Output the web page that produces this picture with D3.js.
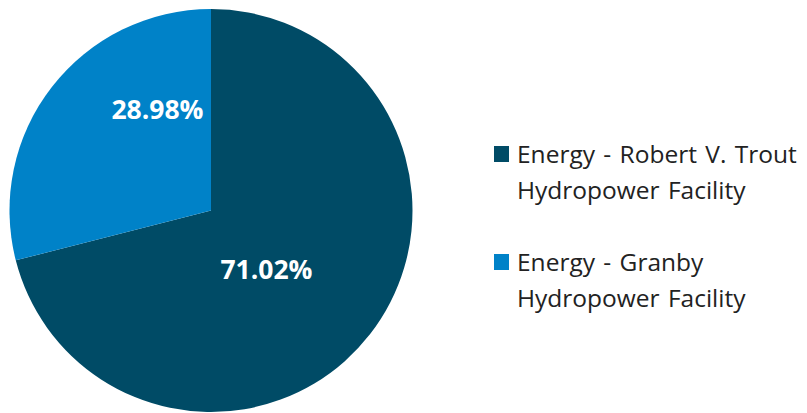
<!DOCTYPE html>
<html>
<head>
<meta charset="utf-8">
<script src="https://cdn.jsdelivr.net/npm/d3@7"></script>
<style>
  html, body { margin: 0; padding: 0; background: #fff; }
  svg { display: block; }
  text { font-family: "Open Sans", "Noto Sans", sans-serif; }
</style>
</head>
<body>
<svg id="chart" width="807" height="413"></svg>
<script>
// Share of energy by facility
const categories = [
  "Energy - Robert V. Trout Hydropower Facility",
  "Energy - Granby Hydropower Facility"
];
const legendLines = [
  ["Energy - Robert V. Trout", "Hydropower Facility"],
  ["Energy - Granby", "Hydropower Facility"]
];
const values = [71.02, 28.98];
const colors = ["#004b66", "#0082c8"];

const svg = d3.select("#chart");
const cx = 211, cy = 210.5, r = 201.5;

const pie = d3.pie().sort(null).value(d => d)(values);
const arc = d3.arc().innerRadius(0).outerRadius(r);

const g = svg.append("g").attr("transform", `translate(${cx},${cy})`);

g.selectAll("path.slice")
  .data(pie)
  .join("path")
  .attr("class", "slice")
  .attr("d", arc)
  .attr("fill", (d, i) => colors[i]);

// Data labels: placed inside each slice, nudged toward the open area
const labelOffsets = [[0.275, 0.29], [-0.266, -0.505]];
g.selectAll("text.lbl")
  .data(pie)
  .join("text")
  .attr("class", "lbl")
  .attr("x", (d, i) => labelOffsets[i][0] * r)
  .attr("y", (d, i) => labelOffsets[i][1] * r)
  .attr("text-anchor", "middle")
  .attr("dominant-baseline", "central")
  .attr("fill", "#fff")
  .attr("font-weight", 700)
  .attr("font-size", 26.5)
  .text(d => d.data.toFixed(2) + "%");

// Legend
const legend = svg.append("g").attr("transform", "translate(494,0)");
const rowTop = [146, 254];
const item = legend.selectAll("g.item")
  .data(categories)
  .join("g")
  .attr("class", "item")
  .attr("transform", (d, i) => `translate(0,${rowTop[i]})`);

item.append("rect")
  .attr("width", 15)
  .attr("height", 16)
  .attr("fill", (d, i) => colors[i]);

item.append("text")
  .attr("x", 23)
  .attr("font-size", 24.5)
  .attr("word-spacing", 2)
  .attr("fill", "#222")
  .selectAll("tspan")
  .data((d, i) => legendLines[i])
  .join("tspan")
  .attr("x", 23)
  .attr("y", (d, j) => 17 + j * 35.6)
  .text(d => d);
</script>
</body>
</html>
